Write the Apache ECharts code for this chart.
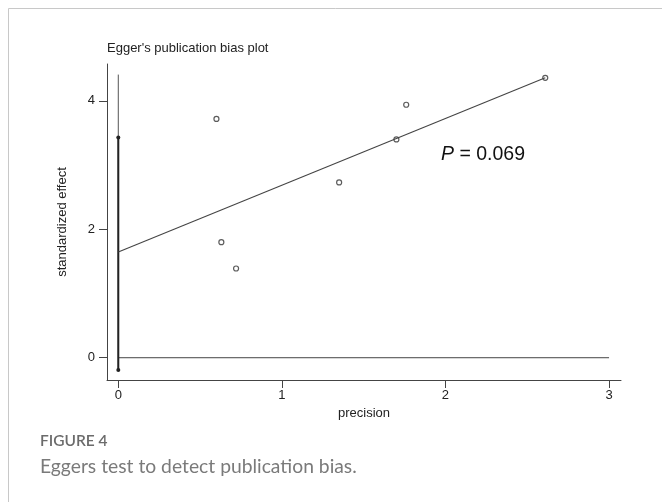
<!DOCTYPE html>
<html>
<head>
<meta charset="utf-8">
<script src="https://cdn.jsdelivr.net/npm/echarts@6/dist/echarts.min.js"></script>
<style>
html,body{margin:0;padding:0;background:#fff;}
#chart{width:662px;height:502px;}
</style>
</head>
<body>
<div id="chart"></div>
<script>
// Study points: precision (x) and standardized effect (y)
var precision = [0.60, 0.63, 0.72, 1.35, 1.70, 1.76, 2.61];
var stdEffect = [3.72, 1.80, 1.39, 2.73, 3.40, 3.94, 4.36];
// Egger regression line (start and end)
var regX = [0, 2.61];
var regY = [1.646, 4.36];
// Intercept confidence interval and reference line
var ciThin = [-0.19, 4.41];
var ciThick = [-0.19, 3.43];
var zeroLineX = [0, 3];
// Tick labels
var xTicks = [0, 1, 2, 3];
var yTicks = [0, 2, 4];

var chart = echarts.init(document.getElementById('chart'));
var dark = '#444';
var txt = '#222';
var font = 'Liberation Sans, Arial, sans-serif';

var pts = precision.map(function(x, i){ return [x, stdEffect[i]]; });

chart.setOption({
  animation: false,
  backgroundColor: '#fff',
  title: {
    text: "Egger's publication bias plot",
    left: 107, top: 42, padding: 0,
    textStyle: {fontFamily: font, fontSize: 13, fontWeight: 'normal', color: txt}
  },
  grid: {left: 107, right: 41, top: 64, bottom: 122, containLabel: false},
  xAxis: {
    type: 'value', min: -0.069, max: 3.073,
    name: 'precision', nameLocation: 'middle', nameGap: 24,
    nameTextStyle: {fontFamily: font, fontSize: 13, color: txt},
    splitLine: {show: false},
    axisLine: {show: true, onZero: false, lineStyle: {color: dark, width: 1}},
    axisTick: {show: true, length: 8, customValues: xTicks, lineStyle: {color: dark}},
    axisLabel: {customValues: xTicks, margin: 9, fontFamily: font, fontSize: 13, color: txt}
  },
  yAxis: {
    type: 'value', min: -0.347, max: 4.575,
    name: 'standardized effect', nameLocation: 'middle', nameGap: 38,
    nameTextStyle: {fontFamily: font, fontSize: 13, color: txt},
    splitLine: {show: false},
    axisLine: {show: true, onZero: false, lineStyle: {color: dark, width: 1}},
    axisTick: {show: true, length: 8, customValues: yTicks, lineStyle: {color: dark}},
    axisLabel: {customValues: yTicks, margin: 12, fontFamily: font, fontSize: 13, color: txt}
  },
  series: [
    {
      type: 'line', data: zeroLineX.map(function(x){ return [x, 0]; }),
      symbol: 'none', lineStyle: {color: dark, width: 1}, silent: true
    },
    {
      type: 'line', data: ciThin.map(function(y){ return [0, y]; }),
      symbol: 'none', lineStyle: {color: '#555', width: 1}, silent: true
    },
    {
      type: 'line', data: ciThick.map(function(y){ return [0, y]; }),
      symbol: 'circle', symbolSize: 4, showAllSymbol: true,
      itemStyle: {color: '#222'},
      lineStyle: {color: '#222', width: 2}, silent: true
    },
    {
      type: 'line', data: regX.map(function(x, i){ return [x, regY[i]]; }),
      symbol: 'none', lineStyle: {color: dark, width: 1.1}, silent: true
    },
    {
      type: 'scatter', data: pts, symbol: 'circle', symbolSize: 5,
      itemStyle: {color: '#fff', borderColor: '#333', borderWidth: 1.2}
    }
  ],
  graphic: [
    {type: 'line', shape: {x1: 8.5, y1: 8.5, x2: 662, y2: 8.5}, style: {stroke: '#c8c8c8', lineWidth: 1}},
    {type: 'line', shape: {x1: 8.5, y1: 8.5, x2: 8.5, y2: 502}, style: {stroke: '#c8c8c8', lineWidth: 1}},
    {
      type: 'text', left: 441, top: 145,
      style: {
        text: '{i|P} = 0.069',
        rich: {i: {fontStyle: 'italic', fontFamily: font, fontSize: 19.5, fill: '#111'}},
        fontFamily: font, fontSize: 19.5, fill: '#111'
      }
    },
    {
      type: 'text', left: 40, top: 433,
      style: {text: 'FIGURE 4', fontFamily: 'Lato, sans-serif', fontSize: 15.5, fontWeight: 600, fill: '#6b6b6b'}
    },
    {
      type: 'text', left: 40, top: 457,
      style: {text: 'Eggers test to detect publication bias.', fontFamily: 'Lato, sans-serif', fontSize: 19.3, fill: '#7a7a7a'}
    }
  ]
});
</script>
</body>
</html>
